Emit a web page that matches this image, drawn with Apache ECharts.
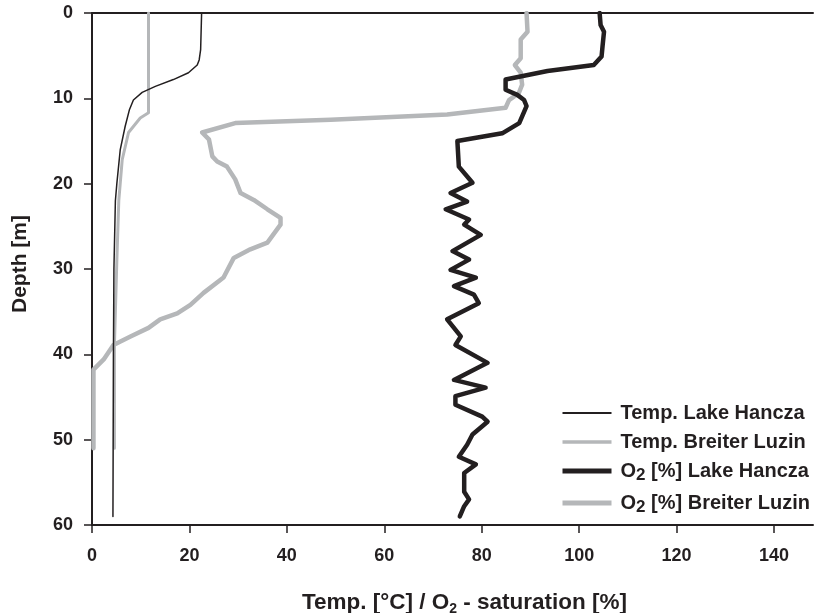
<!DOCTYPE html>
<html>
<head>
<meta charset="utf-8">
<script src="https://cdn.jsdelivr.net/npm/echarts@6/dist/echarts.min.js"></script>
<style>
  html, body { margin: 0; padding: 0; background: #fff; }
  #chart { width: 814px; height: 613px; }
</style>
</head>
<body>
<div id="chart"></div>
<script>
// depth profiles
var hanczaTempDepth = [0, 4.3, 5.5, 6.1, 7, 7.8, 8.6, 9.3, 10.2, 11.3, 13.3, 16, 20, 22, 30, 40, 59];
var hanczaTemp = [22.5, 22.3, 22.0, 21.6, 19.8, 16.7, 13, 10.3, 8.5, 7.7, 6.8, 5.8, 5.1, 4.8, 4.5, 4.4, 4.3];

var luzinTempDepth = [0, 11.7, 12.3, 14, 17.2, 22, 29, 39, 51];
var luzinTemp = [11.6, 11.6, 9.9, 7.5, 6.2, 5.5, 5.1, 4.6, 4.6];

var hanczaO2Depth = [0, 1.4, 2.2, 3.9, 5.1, 6.1, 6.8, 7.8, 9, 9.6, 10.2, 10.9, 12.9, 14.1, 15, 18, 19.9, 21.1, 22.1, 23, 24.2, 24.8, 26, 27.9, 28.9, 30.1, 31, 32, 33, 34, 35.9, 37.9, 38.9, 41, 43, 43.9, 44.9, 45.9, 47.3, 47.9, 49.4, 50.6, 52, 52.9, 53.9, 56.1, 57, 57.8, 59];
var hanczaO2 = [104.2, 104.4, 105.1, 104.8, 104.6, 103, 93.5, 84.9, 84.9, 87.3, 88.7, 89.2, 87.7, 84.2, 75, 75.3, 78.1, 73.6, 77, 72.6, 77.4, 76.4, 79.8, 74, 77.4, 73.6, 78.8, 74.3, 78.4, 79.4, 72.9, 75.7, 74.6, 81.2, 74.3, 80.8, 74.6, 74.6, 80.1, 81.2, 78.1, 77, 75.3, 78.8, 76.4, 76.4, 77.4, 76.4, 75.5];

var luzinO2Depth = [0, 2.2, 3.1, 5.3, 6.1, 7, 8.4, 9.4, 10.2, 11.1, 11.9, 12.5, 12.9, 14, 14.8, 16.8, 17.4, 18, 19.5, 21.1, 21.9, 23, 24, 24.8, 26.9, 27.7, 28.7, 31, 32.8, 34.2, 35.2, 35.9, 36.9, 37.9, 38.9, 40.6, 41.8, 51];
var luzinO2 = [89.2, 89.4, 88, 88, 86.8, 88, 88.3, 87.6, 85.6, 84.9, 72.9, 49, 29.4, 22.6, 24, 24.7, 25.7, 27.7, 29.4, 30.5, 33.2, 36, 38.7, 38.7, 36, 32.5, 29.1, 27, 22.9, 20.2, 17.5, 14, 11.6, 7.9, 4.4, 2.4, 0.3, 0.3];

var seriesNames = ['Temp. Lake Hancza', 'Temp. Breiter Luzin', 'O2 [%] Lake Hancza', 'O2 [%] Breiter Luzin'];
var lineWidths = [1.5, 3, 4.5, 4.5];

var dark = '#231f20';
var grey = '#b5b7b9';
var colors = [dark, grey, dark, grey];
var font = "'Liberation Sans', Arial, Helvetica, sans-serif";

function pairs(vals, depths) {
    var out = [];
    for (var i = 0; i < vals.length; i++) out.push([vals[i], depths[i]]);
    return out;
}

function mkSeries(idx, vals, depths) {
    return {
        name: seriesNames[idx],
        type: 'line',
        data: pairs(vals, depths),
        symbol: 'none',
        animation: false,
        lineStyle: { color: colors[idx], width: lineWidths[idx], join: 'round', cap: 'round' },
        itemStyle: { color: colors[idx] }
    };
}

var legendData = seriesNames.map(function (n, i) {
    return { name: n, lineStyle: { color: colors[i], width: lineWidths[i] + 0.5, cap: 'butt' } };
});

var myChart = echarts.init(document.getElementById('chart'));

var option = {
    backgroundColor: '#fff',
    grid: { left: 92, right: 1, top: 13, bottom: 88, outerBoundsMode: 'none', containLabel: false },
    legend: {
        orient: 'vertical',
        left: 560,
        top: 403,
        padding: 0,
        itemWidth: 49,
        itemHeight: 14,
        itemGap: 9,
        data: legendData,
        itemStyle: { opacity: 0, borderWidth: 0 },
        textStyle: {
            fontFamily: font,
            fontWeight: 'bold',
            fontSize: 20,
            color: dark,
            padding: [0, 0, 0, 4],
            rich: {
                b: { fontFamily: font, fontWeight: 'bold', fontSize: 20, color: dark },
                s: { fontFamily: font, fontWeight: 'bold', fontSize: 17, color: dark, padding: [9, 0, 0, 0] }
            }
        },
        formatter: function (name) {
            if (name.indexOf('O2') === 0) {
                return '{b|O}{s|2}{b|' + name.slice(2) + '}';
            }
            return '{b|' + name + '}';
        }
    },
    xAxis: [{
        type: 'value',
        position: 'bottom',
        min: 0,
        max: 148,
        interval: 20,
        splitLine: { show: false },
        axisLine: { onZero: false, lineStyle: { color: dark, width: 2 } },
        axisTick: { show: true, length: 8, lineStyle: { color: dark, width: 1.5 } },
        axisLabel: {
            margin: 22,
            fontFamily: font, fontWeight: 'bold', fontSize: 18, color: dark,
            showMaxLabel: false
        },
        name: '{b|Temp. [°C] / O}{s|2}{b| - saturation [%]}',
        nameLocation: 'middle',
        nameGap: 65,
        nameTextStyle: {
            padding: [0, 0, 0, 24],
            rich: {
                b: { fontFamily: font, fontWeight: 'bold', fontSize: 22.5, color: dark },
                s: { fontFamily: font, fontWeight: 'bold', fontSize: 14, color: dark, padding: [12, 0, 0, 0] }
            }
        }
    }, {
        type: 'value',
        position: 'top',
        min: 0,
        max: 148,
        splitLine: { show: false },
        axisLine: { onZero: false, lineStyle: { color: dark, width: 2 } },
        axisTick: { show: false },
        axisLabel: { show: false }
    }],
    yAxis: {
        type: 'value',
        inverse: true,
        min: 0,
        max: 60,
        interval: 10,
        splitLine: { show: false },
        axisLine: { onZero: false, lineStyle: { color: dark, width: 2 } },
        axisTick: { show: true, length: 8, lineStyle: { color: dark, width: 1.5 } },
        axisLabel: { margin: 19, fontFamily: font, fontWeight: 'bold', fontSize: 18, color: dark },
        name: 'Depth [m]',
        nameLocation: 'middle',
        nameGap: 61,
        nameTextStyle: { fontFamily: font, fontWeight: 'bold', fontSize: 21, color: dark, padding: [0, 0, 0, 10] }
    },
    series: [
        mkSeries(1, luzinTemp, luzinTempDepth),
        mkSeries(3, luzinO2, luzinO2Depth),
        mkSeries(0, hanczaTemp, hanczaTempDepth),
        mkSeries(2, hanczaO2, hanczaO2Depth)
    ]
};

myChart.setOption(option);
</script>
</body>
</html>
